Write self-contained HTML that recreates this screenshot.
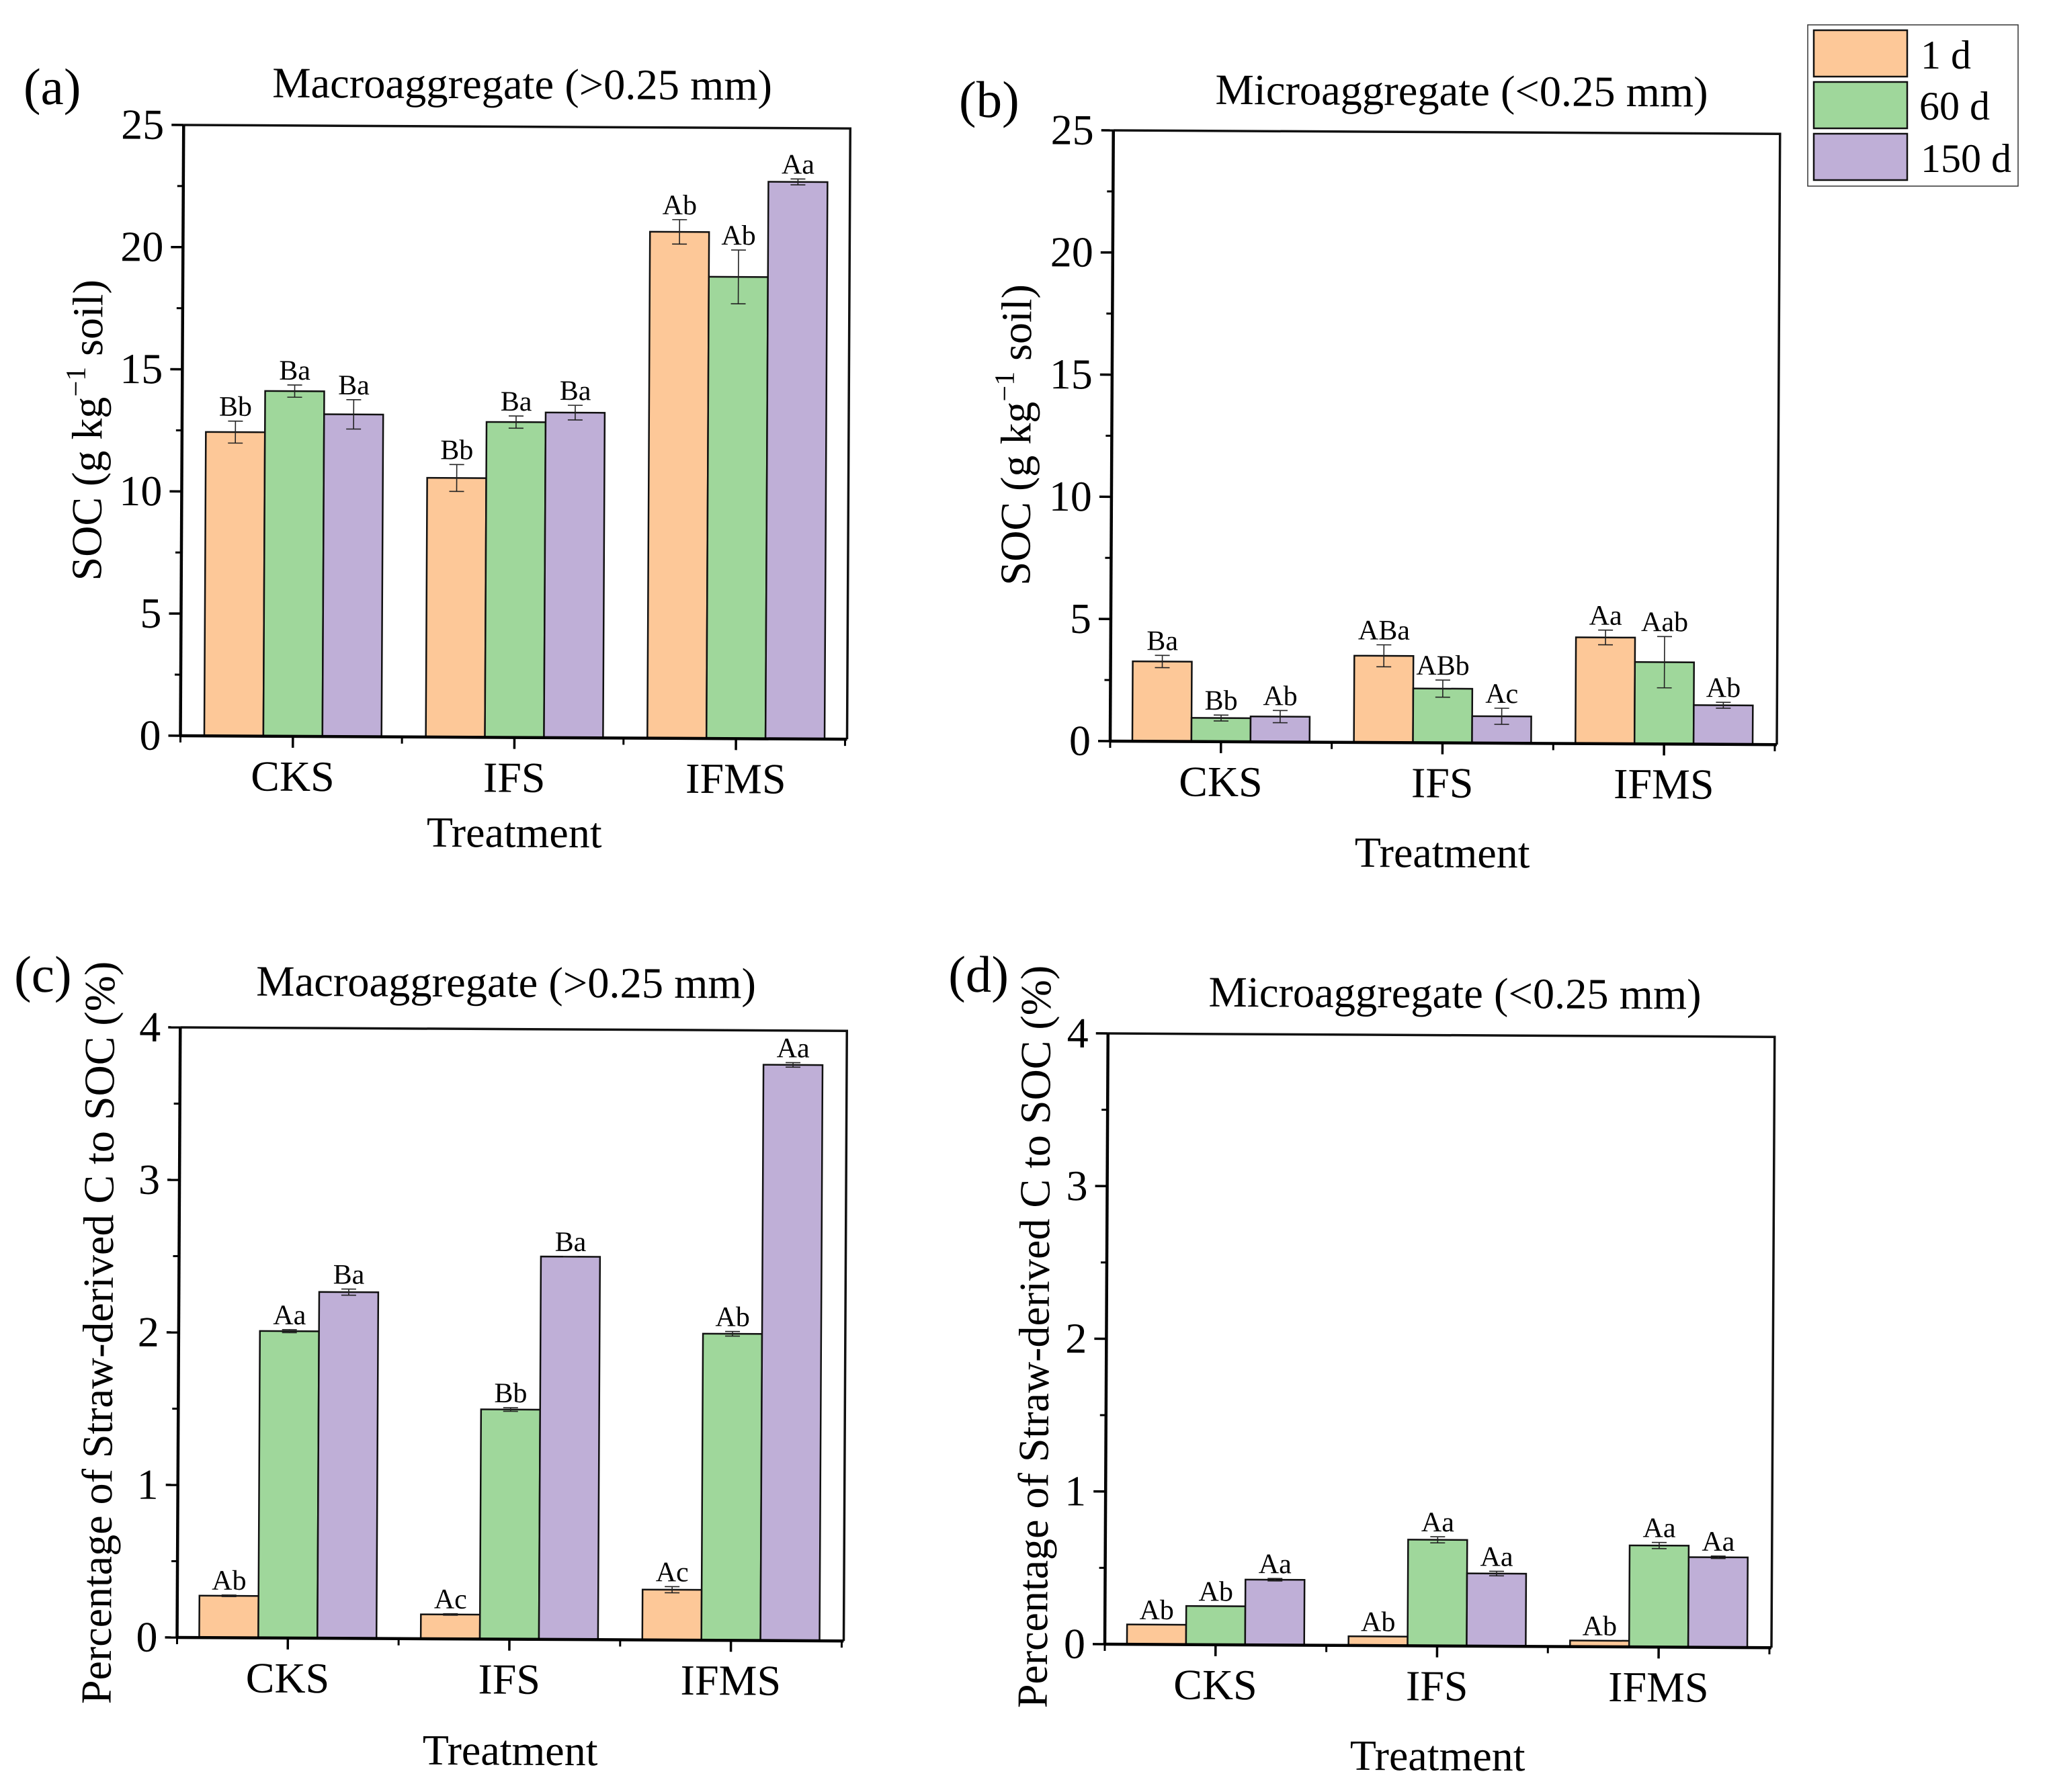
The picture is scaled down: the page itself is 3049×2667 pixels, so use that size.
<!DOCTYPE html>
<html lang="en">
<head>
<meta charset="utf-8">
<title>SOC and straw-derived C in soil aggregates</title>
<style>
html,body{margin:0;padding:0;background:#fff}
svg{display:block}
text{font-family:"Liberation Serif","Times New Roman",serif;fill:#000}
.tick{font-size:64px}
.cat{font-size:64px;text-anchor:middle}
.axt{font-size:64px;text-anchor:middle}
.ttl{font-size:64.5px;text-anchor:middle}
.pl{font-size:77px}
.bl{font-size:42px;text-anchor:middle}
.lg{font-size:60px}
</style>
</head>
<body>
<svg id="fig" xmlns="http://www.w3.org/2000/svg" width="3049" height="2667" viewBox="0 0 3049 2667">
<rect x="0" y="0" width="3049" height="2667" fill="#fff"/>

<g id="panel-a" transform="rotate(0.3 272.5 1095)">
<text class="pl" x="30" y="156">(a)</text>
<text class="ttl" x="772" y="144">Macroaggregate (&gt;0.25 mm)</text>
<text class="axt" transform="translate(149 641) rotate(-90)">SOC (g kg<tspan font-size="42" dy="-25">−1</tspan><tspan dy="25"> soil)</tspan></text>
<text class="axt" x="766" y="1258">Treatment</text>
</g>

<g id="panel-b" transform="rotate(0.3 1652 1103)">
<text class="pl" x="1422" y="175">(b)</text>
<text class="ttl" x="2170" y="154">Microaggregate (&lt;0.25 mm)</text>
<text class="axt" transform="translate(1531 648) rotate(-90)">SOC (g kg<tspan font-size="42" dy="-25">−1</tspan><tspan dy="25"> soil)</tspan></text>
<text class="axt" x="2147" y="1288">Treatment</text>
</g>

<g id="panel-c" transform="rotate(0.3 263.5 2437)">
<text class="pl" x="16" y="1477">(c)</text>
<text class="ttl" x="748" y="1481">Macroaggregate (&gt;0.25 mm)</text>
<text class="axt" transform="translate(165 1984) rotate(-90)">Percentage of Straw-derived C to SOC (%)</text>
<text class="axt" x="760" y="2624">Treatment</text>
</g>

<g id="panel-d" transform="rotate(0.3 1644 2447)">
<text class="pl" x="1406" y="1477">(d)</text>
<text class="ttl" x="2160" y="1497">Microaggregate (&lt;0.25 mm)</text>
<text class="axt" transform="translate(1558 1990) rotate(-90)">Percentage of Straw-derived C to SOC (%)</text>
<text class="axt" x="2140" y="2632">Treatment</text>
</g>

<g id="legend">
<rect x="2690" y="37" width="313" height="240" fill="#fff" stroke="#333" stroke-width="1.5"/>
<g>
<rect x="2699" y="45" width="139" height="69" fill="#fdc898" stroke="#111" stroke-width="2.5"/>
<text class="lg" x="2858" y="102">1 d</text>
</g>
<g>
<rect x="2699" y="122" width="139" height="69" fill="#9fd79b" stroke="#111" stroke-width="2.5"/>
<text class="lg" x="2856" y="178">60 d</text>
</g>
<g>
<rect x="2699" y="199" width="139" height="69" fill="#bfafd7" stroke="#111" stroke-width="2.5"/>
<text class="lg" x="2858" y="256">150 d</text>
</g>
</g>
</svg>

<script>
const categories = ['CKS', 'IFS', 'IFMS'];
const seriesNames = ['1d', '60d', '150d'];
const socTicks = [0, 5, 10, 15, 20, 25];
const pctTicks = [0, 1, 2, 3, 4];

const aValues1d = [12.44, 10.61, 20.73];
const aValues60d = [14.13, 12.91, 18.9];
const aValues150d = [13.19, 13.31, 22.8];
const aErrors1d = [0.45, 0.55, 0.5];
const aErrors60d = [0.25, 0.25, 1.1];
const aErrors150d = [0.6, 0.3, 0.12];
const aLabels1d = ['Bb', 'Bb', 'Ab'];
const aLabels60d = ['Ba', 'Ba', 'Ab'];
const aLabels150d = ['Ba', 'Ba', 'Aa'];

const bValues1d = [3.27, 3.55, 4.35];
const bValues60d = [0.97, 2.22, 3.35];
const bValues150d = [1.04, 1.1, 1.6];
const bErrors1d = [0.25, 0.45, 0.3];
const bErrors60d = [0.12, 0.35, 1.05];
const bErrors150d = [0.25, 0.33, 0.12];
const bLabels1d = ['Ba', 'ABa', 'Aa'];
const bLabels60d = ['Bb', 'ABb', 'Aab'];
const bLabels150d = ['Ab', 'Ac', 'Ab'];

const cValues1d = [0.275, 0.16, 0.33];
const cValues60d = [2.012, 1.506, 2.01];
const cValues150d = [2.27, 2.51, 3.775];
const cErrors1d = [0.005, 0.005, 0.02];
const cErrors60d = [0.01, 0.012, 0.015];
const cErrors150d = [0.02, 0.002, 0.015];
const cLabels1d = ['Ab', 'Ac', 'Ac'];
const cLabels60d = ['Aa', 'Bb', 'Ab'];
const cLabels150d = ['Ba', 'Ba', 'Aa'];

const dValues1d = [0.13, 0.06, 0.04];
const dValues60d = [0.253, 0.695, 0.665];
const dValues150d = [0.428, 0.476, 0.59];
const dErrors1d = [0, 0, 0];
const dErrors60d = [0, 0.02, 0.02];
const dErrors150d = [0.008, 0.015, 0.008];
const dLabels1d = ['Ab', 'Ab', 'Ab'];
const dLabels60d = ['Ab', 'Aa', 'Aa'];
const dLabels150d = ['Aa', 'Aa', 'Aa'];

const seriesFills = ['#fdc898', '#9fd79b', '#bfafd7'];
const SVG_NS = 'http://www.w3.org/2000/svg';

function make(parent, tag, props, txt) {
  const node = document.createElementNS(SVG_NS, tag);
  for (const k in props) node.setAttribute(k, props[k]);
  if (txt !== undefined) node.textContent = txt;
  parent.appendChild(node);
  return node;
}

function drawPanel(cfg) {
  const root = document.getElementById('panel-' + cfg.id);
  const yScale = v => cfg.y0 - (v / cfg.yMax) * cfg.h;
  const bandW = cfg.w / categories.length;
  const xCenter = i => cfg.x0 + bandW * (i + 0.5);
  const barW = bandW * 0.8 / seriesNames.length;
  const capW = 22;
  const axisLeft = cfg.x0 + cfg.axisShift;

  const plot = make(root, 'g', {});
  
  

  cfg.values.forEach((vals, s) => {
    const seriesGroup = make(plot, 'g', {});
    
    
    vals.forEach((v, i) => {
      const left = xCenter(i) + (s - 1.5) * barW;
      const top = yScale(v);
      const bar = make(seriesGroup, 'rect', {
        x: left, y: top, width: barW, height: cfg.y0 - top,
        fill: seriesFills[s], stroke: '#111', 'stroke-width': 2.5
      });
      
      

      const e = cfg.errors[s][i];
      const cx = left + barW / 2;
      const yHi = yScale(v + e);
      const yLo = yScale(v - e);
      if (e > 0) {
        const errBar = make(seriesGroup, 'path', {
          d: 'M' + cx + ' ' + yHi + 'V' + yLo +
             'M' + (cx - capW / 2) + ' ' + yHi + 'H' + (cx + capW / 2) +
             'M' + (cx - capW / 2) + ' ' + yLo + 'H' + (cx + capW / 2),
          fill: 'none', stroke: '#222', 'stroke-width': 1.6
        });
        
        
      }
      const label = make(seriesGroup, 'text', { class: 'bl', x: cx, y: yHi - 8 }, cfg.labels[s][i]);
      
      
    });
  });

  const frame = make(root, 'g', {});
  
  

  const topRight = make(frame, 'path', {
    d: 'M' + axisLeft + ' ' + (cfg.y0 - cfg.h) + 'H' + (axisLeft + cfg.w + 3) + 'V' + cfg.y0,
    fill: 'none', stroke: '#111', 'stroke-width': 3.5
  });
  
  

  const xAxis = make(frame, 'line', {
    x1: axisLeft, x2: axisLeft + cfg.w + 3, y1: cfg.y0, y2: cfg.y0, stroke: '#000', 'stroke-width': 4.5
  });
  
  

  const yAxis = make(frame, 'line', {
    x1: axisLeft, x2: axisLeft, y1: cfg.y0 - cfg.h, y2: cfg.y0, stroke: '#000', 'stroke-width': 4.5
  });
  
  

  cfg.ticks.forEach((t, i) => {
    const y = yScale(t);
    const tick = make(frame, 'line', { x1: axisLeft - 18, x2: axisLeft, y1: y, y2: y, stroke: '#000', 'stroke-width': 3.5 });
    
    
    const tl = make(frame, 'text', { class: 'tick', 'text-anchor': 'end', x: axisLeft - 29, y: y + 21 }, String(t));
    
    
    if (i < cfg.ticks.length - 1) {
      const mid = yScale((t + cfg.ticks[i + 1]) / 2);
      const minor = make(frame, 'line', { x1: axisLeft - 9, x2: axisLeft, y1: mid, y2: mid, stroke: '#000', 'stroke-width': 3 });
      
      
    }
  });

  categories.forEach((c, i) => {
    const x = xCenter(i);
    const tick = make(frame, 'line', { x1: x, x2: x, y1: cfg.y0, y2: cfg.y0 + 17, stroke: '#000', 'stroke-width': 3.5 });
    
    
    const tl = make(frame, 'text', { class: 'cat', x: x, y: cfg.y0 + 81 }, c);
    
    
  });
  for (let i = 0; i <= categories.length; i++) {
    const x = axisLeft + bandW * i;
    const minor = make(frame, 'line', { x1: x, x2: x, y1: cfg.y0, y2: cfg.y0 + 10, stroke: '#000', 'stroke-width': 3 });
    
    
  }
}

drawPanel({ id: 'a', x0: 271, y0: 1095, w: 989, h: 909, yMax: 25, ticks: socTicks, axisShift: -2.5,
  values: [aValues1d, aValues60d, aValues150d], errors: [aErrors1d, aErrors60d, aErrors150d], labels: [aLabels1d, aLabels60d, aLabels150d] });
drawPanel({ id: 'b', x0: 1652, y0: 1103, w: 989, h: 909, yMax: 25, ticks: socTicks, axisShift: 0,
  values: [bValues1d, bValues60d, bValues150d], errors: [bErrors1d, bErrors60d, bErrors150d], labels: [bLabels1d, bLabels60d, bLabels150d] });
drawPanel({ id: 'c', x0: 263.5, y0: 2437, w: 989, h: 908, yMax: 4, ticks: pctTicks, axisShift: 0,
  values: [cValues1d, cValues60d, cValues150d], errors: [cErrors1d, cErrors60d, cErrors150d], labels: [cLabels1d, cLabels60d, cLabels150d] });
drawPanel({ id: 'd', x0: 1644, y0: 2447, w: 989, h: 909, yMax: 4, ticks: pctTicks, axisShift: 0,
  values: [dValues1d, dValues60d, dValues150d], errors: [dErrors1d, dErrors60d, dErrors150d], labels: [dLabels1d, dLabels60d, dLabels150d] });
</script>
</body>
</html>
